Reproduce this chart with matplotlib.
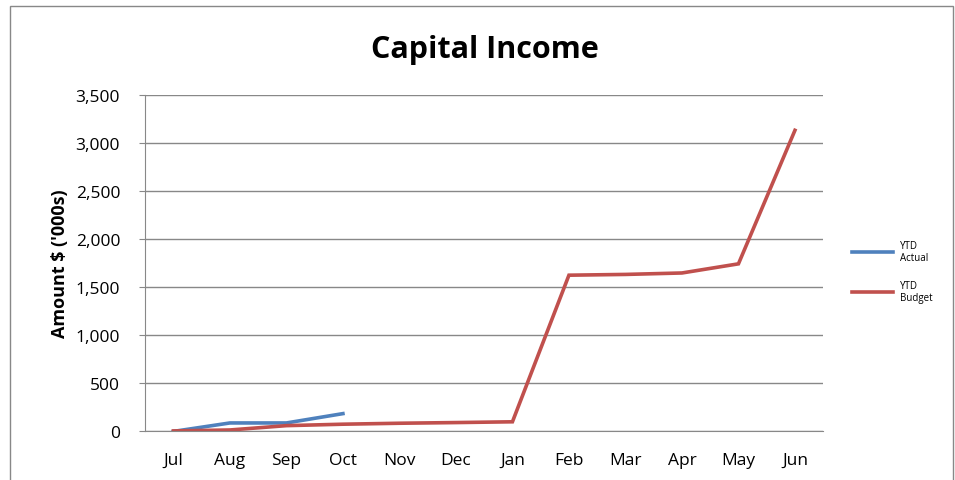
import matplotlib.pyplot as plt
from matplotlib.patches import Rectangle

months = ["Jul", "Aug", "Sep", "Oct", "Nov", "Dec", "Jan", "Feb", "Mar", "Apr", "May", "Jun"]
ytd_actual = [0, 88, 88, 185]
ytd_budget = [5, 15, 60, 75, 85, 92, 100, 1624, 1632, 1647, 1742, 3130]

plt.rcParams["font.family"] = ["Open Sans", "DejaVu Sans"]

fig = plt.figure(figsize=(9.55, 4.81), dpi=100)
ax = fig.add_axes([0.152, 0.101, 0.710, 0.700])

x = list(range(len(months)))
ax.plot(x[:len(ytd_actual)], ytd_actual, color="#4F81BD", lw=2.6, label="YTD\nActual", solid_joinstyle="miter")
ax.plot(x, ytd_budget, color="#C0504D", lw=2.6, label="YTD\nBudget", solid_joinstyle="miter")

ax.set_xlim(-0.5, len(months) - 0.5)
ax.set_ylim(0, 3500)
ax.set_yticks(range(0, 3501, 500))
ax.set_yticklabels(["{:,}".format(v) for v in range(0, 3501, 500)], fontsize=12.5)
ax.set_xticks(x)
ax.set_xticklabels(months, fontsize=12.5)
ax.tick_params(axis="x", length=0, pad=15)
ax.tick_params(axis="y", length=4, color="#888888", pad=14)
ax.grid(axis="y", color="#888888", lw=1)
ax.set_axisbelow(True)
for s in ["top", "right"]:
    ax.spines[s].set_visible(False)
for s in ["left", "bottom"]:
    ax.spines[s].set_color("#888888")

ax.set_ylabel("Amount $ ('000s)", fontsize=13, fontweight="bold", labelpad=5)
fig.text(0.508, 0.896, "Capital Income", ha="center", va="center", fontsize=22, fontweight="bold")

leg = ax.legend(loc="center left", bbox_to_anchor=(1.03, 0.475), frameon=False, fontsize=7,
                handlelength=4.2, labelspacing=1.7, handletextpad=0.7)

fig.patches.append(Rectangle((10 / 955, -0.1), 943 / 955, 1.1 - 7 / 481, transform=fig.transFigure,
                             fill=False, edgecolor="#888888", lw=1))

fig.savefig("out.png", dpi=100)
